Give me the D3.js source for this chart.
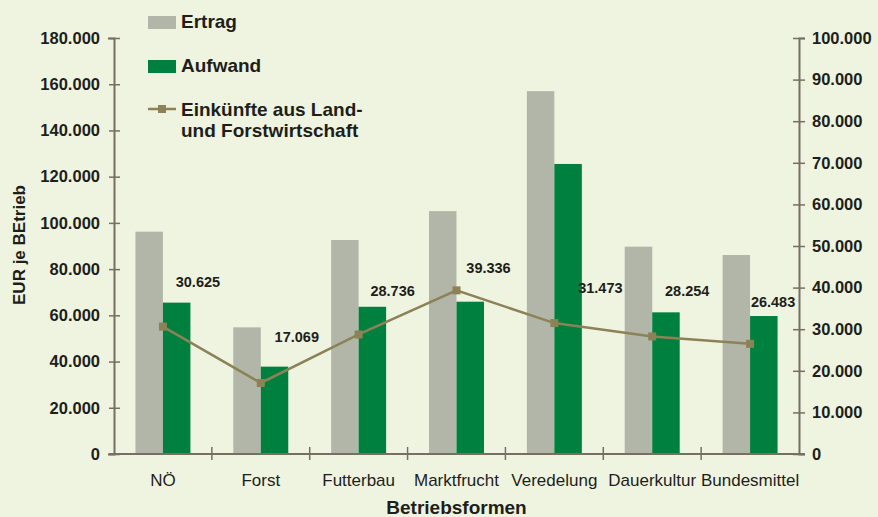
<!DOCTYPE html>
<html>
<head>
<meta charset="utf-8">
<title>Betriebsformen</title>
<style>
  html, body { margin: 0; padding: 0; background: #eff4e1; }
  body { font-family: "Liberation Sans", Arial, Helvetica, sans-serif; }
  svg text { fill: #1e1e1a; }
</style>
</head>
<body>
<div id="chart-holder"></div>
<script src="https://d3js.org/d3.v7.min.js"></script>
<script>
// data
var categories = ['NÖ', 'Forst', 'Futterbau', 'Marktfrucht', 'Veredelung', 'Dauerkultur', 'Bundesmittel'];
var ertrag = [96200, 54800, 92600, 105100, 157000, 89700, 86100];
var aufwand = [65500, 37800, 63700, 65900, 125500, 61300, 59700];
var einkuenfte = [30625, 17069, 28736, 39336, 31473, 28254, 26483];
var leftTicks = [0, 20000, 40000, 60000, 80000, 100000, 120000, 140000, 160000, 180000];
var rightTicks = [0, 10000, 20000, 30000, 40000, 50000, 60000, 70000, 80000, 90000, 100000];
var seriesNames = ['Ertrag', 'Aufwand'];

// label nudges (layout only), relative to the line marker
var labelOffsets = [[35, -45], [36, -46], [34, -43], [32, -22], [46, -35], [35, -45], [23, -42]];

var width = 878;
var height = 517;
var plot = {left: 114, right: 799, top: 38, bottom: 454};

var colGray = '#b2b6a8';
var colGreen = '#00803e';
var colLine = '#8c8257';
var colAxis = '#766f62';

var de = d3.formatLocale({decimal: ',', thousands: '.', grouping: [3], currency: ['', '']});
var fmt = de.format(',');

var svg = d3.select('#chart-holder')
  .append('svg')
  .attr('width', width)
  .attr('height', height);

svg.append('rect')
  .attr('width', width)
  .attr('height', height)
  .attr('fill', '#eff4e1');

// scales
var x = d3.scaleBand().domain(categories).range([plot.left, plot.right]).padding(0);
var x1 = d3.scaleBand().domain(seriesNames).range([0, x.bandwidth()])
  .paddingInner(0).paddingOuter(0.78);
var yL = d3.scaleLinear().domain([0, 180000]).range([plot.bottom, plot.top]);
var yR = d3.scaleLinear().domain([0, 100000]).range([plot.bottom, plot.top]);

// bars
var rows = categories.map(function(c, i) {
  return {cat: c, values: [ertrag[i], aufwand[i]]};
});

var groups = svg.selectAll('.grp')
  .data(rows)
  .enter()
  .append('g')
  .attr('class', 'grp')
  .attr('transform', function(d) { return 'translate(' + x(d.cat) + ',0)'; });

groups.selectAll('rect')
  .data(function(d) {
    return d.values.map(function(v, j) { return {name: seriesNames[j], value: v}; });
  })
  .enter()
  .append('rect')
  .attr('x', function(d) { return x1(d.name); })
  .attr('y', function(d) { return yL(d.value); })
  .attr('width', x1.bandwidth())
  .attr('height', function(d) { return plot.bottom - yL(d.value); })
  .attr('fill', function(d) { return d.name === 'Ertrag' ? colGray : colGreen; });

// left axis
var axL = svg.append('g')
  .attr('transform', 'translate(' + plot.left + ',0)')
  .call(d3.axisLeft(yL).tickValues(leftTicks).tickFormat(fmt).tickSize(6).tickPadding(14));
axL.select('.domain').attr('stroke', colAxis).attr('stroke-width', 2);
axL.selectAll('.tick line').attr('stroke', colAxis).attr('stroke-width', 1.5).attr('x1', -5).attr('x2', 6);
axL.selectAll('.tick text')
  .attr('x', -14)
  .style('font-size', '16.5px')
  .style('font-weight', 'bold')
  .style('font-family', '"Liberation Sans", Arial, sans-serif')
  .attr('fill', '#1e1e1a');

// right axis
var axR = svg.append('g')
  .attr('transform', 'translate(' + plot.right + ',0)')
  .call(d3.axisRight(yR).tickValues(rightTicks).tickFormat(fmt).tickSize(6).tickPadding(13));
axR.select('.domain').attr('stroke', colAxis).attr('stroke-width', 2);
axR.selectAll('.tick line').attr('stroke', colAxis).attr('stroke-width', 1.5).attr('x1', -6).attr('x2', 6);
axR.selectAll('.tick text')
  .attr('x', 13)
  .style('font-size', '16.5px')
  .style('font-weight', 'bold')
  .style('font-family', '"Liberation Sans", Arial, sans-serif')
  .attr('fill', '#1e1e1a');

// x axis
var axX = svg.append('g')
  .attr('transform', 'translate(0,' + plot.bottom + ')')
  .call(d3.axisBottom(x).tickSize(0).tickPadding(0));
axX.select('.domain').attr('d', 'M' + (plot.left - 5) + ',0H' + (plot.right + 6)).attr('stroke', colAxis).attr('stroke-width', 2);
axX.selectAll('.tick text')
  .attr('y', 32)
  .attr('dy', 0)
  .style('font-size', '17px')
  .style('font-family', '"Liberation Sans", Arial, sans-serif')
  .attr('fill', '#2a2a26');

// boundary ticks between categories
axX.selectAll('.sep')
  .data(categories.slice(1))
  .enter()
  .append('line')
  .attr('class', 'sep')
  .attr('x1', function(d) { return x(d); })
  .attr('x2', function(d) { return x(d); })
  .attr('y1', -7)
  .attr('y2', 6)
  .attr('stroke', colAxis)
  .attr('stroke-width', 1.5);

// line
var line = d3.line()
  .x(function(d, i) { return x(categories[i]) + x.bandwidth() / 2; })
  .y(function(d) { return yR(d); });

svg.append('path')
  .datum(einkuenfte)
  .attr('d', line)
  .attr('fill', 'none')
  .attr('stroke', colLine)
  .attr('stroke-width', 2.5);

svg.selectAll('.marker')
  .data(einkuenfte)
  .enter()
  .append('rect')
  .attr('class', 'marker')
  .attr('x', function(d, i) { return x(categories[i]) + x.bandwidth() / 2 - 4; })
  .attr('y', function(d) { return yR(d) - 4; })
  .attr('width', 8)
  .attr('height', 8)
  .attr('fill', colLine);

// value labels
svg.selectAll('.vlabel')
  .data(einkuenfte)
  .enter()
  .append('text')
  .attr('class', 'vlabel')
  .attr('x', function(d, i) { return x(categories[i]) + x.bandwidth() / 2 + labelOffsets[i][0]; })
  .attr('y', function(d, i) { return yR(d) + labelOffsets[i][1]; })
  .attr('text-anchor', 'middle')
  .attr('dominant-baseline', 'central')
  .style('font-size', '14.5px')
  .style('font-weight', 'bold')
  .text(function(d) { return fmt(d); });

// axis titles
svg.append('text')
  .attr('transform', 'translate(19,245) rotate(-90)')
  .attr('text-anchor', 'middle')
  .attr('dominant-baseline', 'central')
  .style('font-size', '17px')
  .style('font-weight', 'bold')
  .text('EUR je BEtrieb');

svg.append('text')
  .attr('x', (plot.left + plot.right) / 2)
  .attr('y', 514)
  .attr('text-anchor', 'middle')
  .style('font-size', '19px')
  .style('font-weight', 'bold')
  .text('Betriebsformen');

// legend
var lg = svg.append('g').attr('transform', 'translate(148,0)');

lg.append('rect').attr('x', 0).attr('y', 16).attr('width', 28).attr('height', 13).attr('fill', colGray);
lg.append('text').attr('x', 33).attr('y', 28).style('font-size', '19px').style('font-weight', 'bold').text('Ertrag');

lg.append('rect').attr('x', 0).attr('y', 60).attr('width', 28).attr('height', 13).attr('fill', colGreen);
lg.append('text').attr('x', 33).attr('y', 72).style('font-size', '19px').style('font-weight', 'bold').text('Aufwand');

lg.append('line').attr('x1', 0).attr('x2', 28).attr('y1', 109).attr('y2', 109)
  .attr('stroke', colLine).attr('stroke-width', 2.5);
lg.append('rect').attr('x', 10).attr('y', 105).attr('width', 8).attr('height', 8).attr('fill', colLine);
lg.append('text').attr('x', 33).attr('y', 116).style('font-size', '19px').style('font-weight', 'bold').text('Einkünfte aus Land-');
lg.append('text').attr('x', 33).attr('y', 137).style('font-size', '19px').style('font-weight', 'bold').text('und Forstwirtschaft');
</script>
</body>
</html>
